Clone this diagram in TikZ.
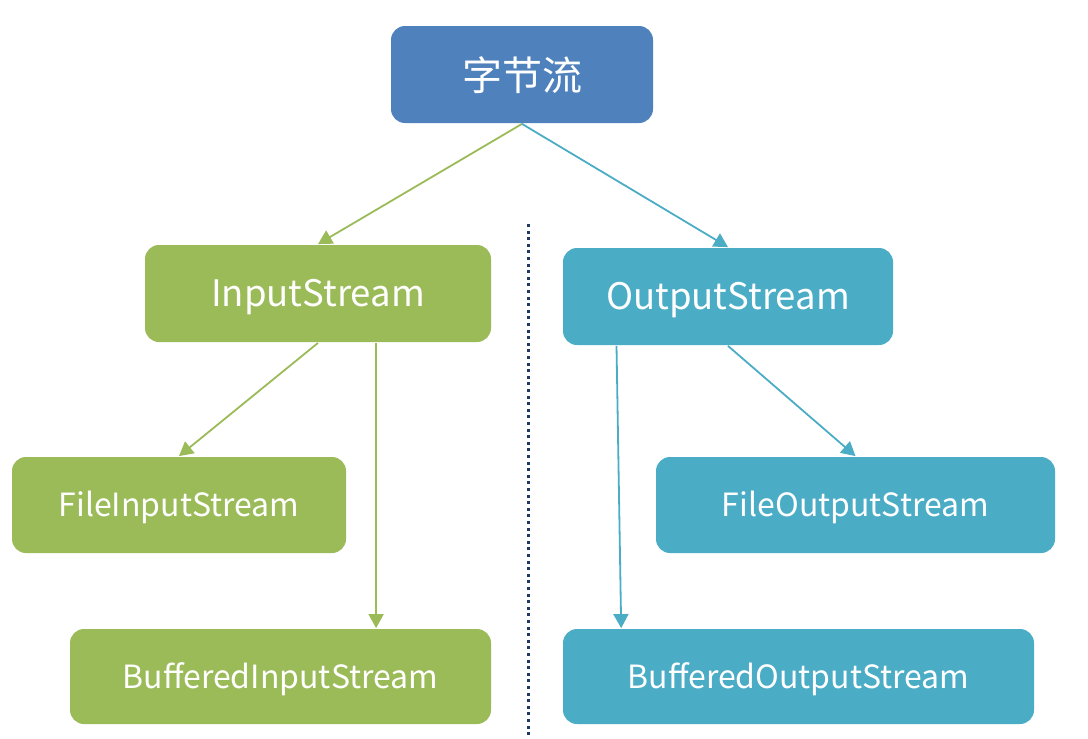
\documentclass[tikz,border=0pt]{standalone}
\usepackage{fontspec}
\setmainfont{Noto Sans CJK SC}
\usetikzlibrary{arrows.meta,calc}
\definecolor{topblue}{HTML}{4F81BD}
\definecolor{ingreen}{HTML}{9BBB59}
\definecolor{outteal}{HTML}{4BACC6}
\definecolor{dotnavy}{HTML}{1F3864}

\begin{document}
\begin{tikzpicture}[x=1pt,y=-1pt,line width=1.8pt,
  box/.style={rounded corners=14pt,text=white,inner sep=0pt,text depth=2pt},
  inbox/.style={box,fill=ingreen},
  outbox/.style={box,fill=outteal},
  inarrow/.style={draw=ingreen,-{Triangle[length=14pt,width=15pt]}},
  outarrow/.style={draw=outteal,-{Triangle[length=14pt,width=15pt]}}]
\useasboundingbox (0,0) rectangle (1088,739);
% 顶部：字节流
\node[box,fill=topblue,minimum width=262pt,minimum height=97pt,font=\fontsize{40}{44}\selectfont]
  (byte) at (522,74.5) {字节流};
% 第二层
\node[inbox,minimum width=346pt,minimum height=97pt,font=\fontsize{36.5}{40}\selectfont]
  (in) at (318,293.5) {InputStream};
\node[outbox,minimum width=330pt,minimum height=97pt,font=\fontsize{36.5}{40}\selectfont]
  (out) at (728,296.5) {OutputStream};
% 第三层
\node[inbox,minimum width=334pt,minimum height=96pt,font=\fontsize{32}{36}\selectfont]
  (fin) at (179,505) {FileInputStream};
\node[outbox,minimum width=399pt,minimum height=96pt,font=\fontsize{32}{36}\selectfont]
  (fout) at (855.5,505) {FileOutputStream};
% 第四层
\node[inbox,minimum width=421pt,minimum height=95pt,font=\fontsize{32}{36}\selectfont]
  (bin) at (280.5,676.5) {BufferedInputStream};
\node[outbox,minimum width=471pt,minimum height=95pt,font=\fontsize{32}{36}\selectfont]
  (bout) at (798.5,676.5) {BufferedOutputStream};
% 中间分隔虚线
\coordinate (divtop) at (528,224);
\coordinate (divbot) at (528,739);
\draw[dotnavy,line width=3pt,dash pattern=on 3pt off 3.6pt] (divtop) -- (divbot);
% 箭头
\draw[inarrow] (byte.south) -- (in.north);
\draw[outarrow] (byte.south) -- (out.north);
\draw[inarrow] (in.south) -- (fin.north);
\coordinate (inb) at ($(in.south west)!0.667!(in.south east)$);
\draw[inarrow] (inb) -- (inb |- bin.north);
\draw[outarrow] (out.south) -- (fout.north);
\draw[outarrow] ($(out.south west)!0.164!(out.south east)$)
  -- ($(bout.north west)!0.125!(bout.north east)$);
\end{tikzpicture}
\end{document}
